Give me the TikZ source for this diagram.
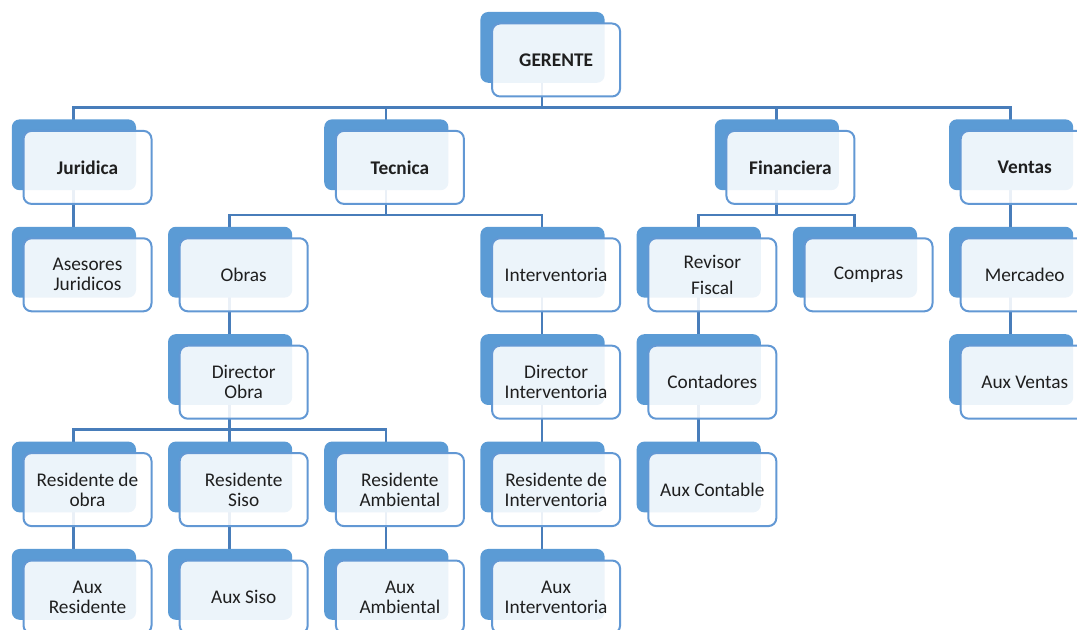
\documentclass[tikz,border=0pt]{standalone}
\usepackage{fontspec}
\setmainfont{Carlito}
\usetikzlibrary{calc,shadows,backgrounds}

\definecolor{boxblue}{RGB}{91,155,213}
\definecolor{boxline}{RGB}{98,152,212}
\definecolor{linkblue}{RGB}{72,125,186}

\tikzset{
  unit/.style={draw=boxline, line width=1.5pt, rounded corners=6pt,
    fill=white, fill opacity=0.89, text opacity=1, text=black!88,
    minimum width=96pt, minimum height=54.75pt, align=center,
    font=\fontsize{14.5}{15}\selectfont,
    general shadow={fill=boxblue, fill opacity=1, draw=none,
      shadow xshift=-10.5pt, shadow yshift=9.75pt, shadow scale=0.97}},
  link/.style={draw=linkblue, line width=2pt}
}

\begin{document}
\begin{tikzpicture}[x=0.75pt, y=-0.75pt]
    \useasboundingbox (0,0) rectangle (1077,630);
    \clip (0,0) rectangle (1077,630);

    \foreach \n/\c/\r/\t in {
        ger/3/0/{\textbf{GERENTE}},
        jur/0/1/{\textbf{Juridica}}, tec/2/1/{\textbf{Tecnica}},
        fin/4.5/1/{\textbf{Financiera}}, ven/6/1/{\textbf{Ventas}},
        ase/0/2/{Asesores\\Juridicos}, obr/1/2/{Obras}, int/3/2/{Interventoria},
        rev/4/2/{Revisor\\[5pt]Fiscal}, com/5/2/{Compras}, mer/6/2/{Mercadeo},
        dob/1/3/{Director\\Obra}, din/3/3/{Director\\Interventoria},
        con/4/3/{Contadores}, avt/6/3/{Aux Ventas},
        rob/0/4/{Residente de\\obra}, rsi/1/4/{Residente\\Siso},
        ram/2/4/{Residente\\Ambiental}, rin/3/4/{Residente de\\Interventoria},
        aco/4/4/{Aux Contable},
        aob/0/5/{Aux\\Residente}, asi/1/5/{Aux Siso},
        aam/2/5/{Aux\\Ambiental}, ain/3/5/{Aux\\Interventoria}} {
      \node[unit] (\n) at ({87.5+156.2*\c}, {60+107.4*\r}) {\t};
    }

    \begin{scope}[on background layer]
      \foreach \p/\k in {ger/jur, ger/tec, ger/fin, ger/ven, jur/ase,
          tec/obr, tec/int, fin/rev, fin/com, ven/mer, obr/dob, int/din,
          rev/con, mer/avt, dob/rob, dob/rsi, dob/ram, din/rin, con/aco,
          rob/aob, rsi/asi, ram/aam, rin/ain} {
        \draw[link] ($(\p.center)+(-14,0)$) -- ($(\p.south)+(-14,10)$)
          -| ($(\k.center)+(-14,0)$);
      }
    \end{scope}

  \end{tikzpicture}
\end{document}
